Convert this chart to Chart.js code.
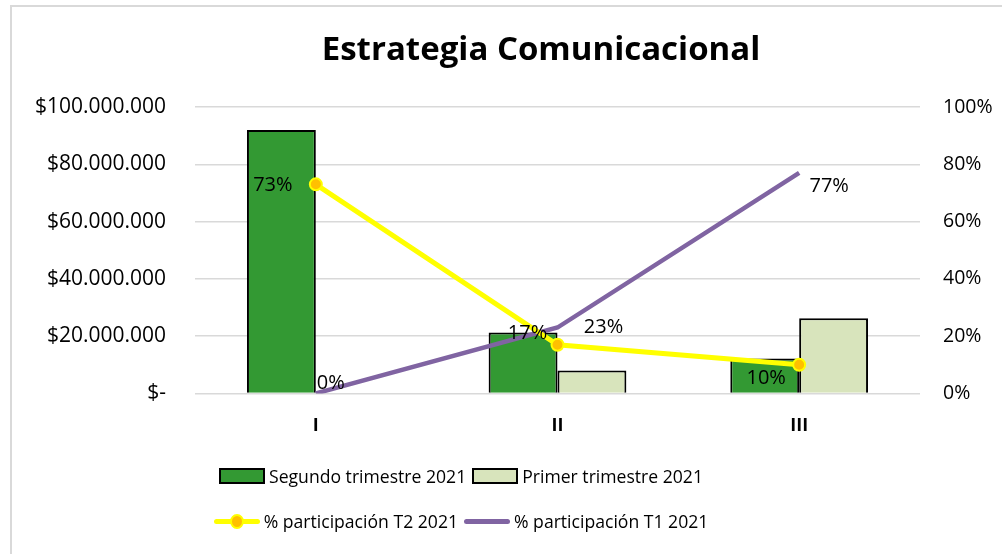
<!DOCTYPE html>
<html>
<head>
<meta charset="utf-8">
<script src="https://cdn.jsdelivr.net/npm/chart.js@4"></script>
<style>
  body { margin: 0; background: #fff; font-family: 'Open Sans', sans-serif; }
  #wrap { position: relative; width: 1002px; height: 554px; overflow: hidden; }
  #frame { position: absolute; left: 10px; top: 5px; width: 1100px; height: 600px; border-top: 2px solid #d9d9d9; border-left: 2px solid #d9d9d9; }
  canvas { position: absolute; left: 0; top: 0; }
  .legend { position: absolute; left: 0; width: 922px; display: flex; justify-content: center; font-size: 17.6px; color: #000; }
  .item { display: flex; align-items: center; margin: 0 3px; }
  .box { width: 42px; height: 12px; border: 2px solid #000; margin-right: 4px; }
  .line { position: relative; width: 46px; height: 5px; margin-right: 4px; border-radius: 3px; }
  .dot { position: absolute; left: 16px; top: -5px; width: 10px; height: 11px; border-radius: 50%; background: #FFC000; border: 2px solid #FFFF00; }
</style>
</head>
<body>
<div id="wrap">
  <div id="frame"></div>
  <canvas id="chart" width="1002" height="554"></canvas>
  <div class="legend" style="top:464px">
    <div class="item"><div class="box" style="background:#339933"></div>Segundo trimestre 2021</div>
    <div class="item"><div class="box" style="background:#D8E4BC"></div>Primer trimestre 2021</div>
  </div>
  <div class="legend" style="top:509px">
    <div class="item"><div class="line" style="background:#FFFF00"><div class="dot"></div></div>% participación T2 2021</div>
    <div class="item"><div class="line" style="background:#8064A2"></div>% participación T1 2021</div>
  </div>
</div>
<script>
// Data
const categories = ['I', 'II', 'III'];
const segundoTrimestre = [92000000, 21300000, 12200000];
const primerTrimestre = [0, 8000000, 26200000];
const participacionT2 = [73, 17, 10];
const participacionT1 = [0, 23, 77];
const moneyTicks = [0, 20000000, 40000000, 60000000, 80000000, 100000000];
const chartTitle = 'Estrategia Comunicacional';

// Draws the percentage labels next to the line points
const pointLabels = {
    id: 'pointLabels',
    afterDatasetsDraw(chart, args, opts) {
        const ctx = chart.ctx;
        ctx.save();
        ctx.font = '20px "Open Sans"';
        ctx.fillStyle = '#000';
        ctx.textAlign = 'center';
        ctx.textBaseline = 'middle';
        chart.data.datasets.forEach((ds, i) => {
            const offs = opts.offsets[ds.label];
            if (!offs) return;
            chart.getDatasetMeta(i).data.forEach((pt, j) => {
                ctx.fillText(ds.data[j] + '%', pt.x + offs[j][0], pt.y + offs[j][1]);
            });
        });
        ctx.restore();
    }
};

// Title sits a bit right of the canvas centre, like in the original
const sideTitle = {
    id: 'sideTitle',
    afterDraw(chart, args, opts) {
        const ctx = chart.ctx;
        ctx.save();
        ctx.font = 'bold 33px "Open Sans"';
        ctx.fillStyle = '#000';
        ctx.textAlign = 'center';
        ctx.textBaseline = 'alphabetic';
        ctx.fillText(opts.text, opts.x, opts.y);
        ctx.restore();
    }
};

function formatMoney(v) {
    if (v === 0) return '$-';
    return '$' + v.toString().replace(/\B(?=(\d{3})+(?!\d))/g, '.');
}

new Chart(document.getElementById('chart'), {
    data: {
        labels: categories,
        datasets: [
            {
                type: 'line',
                label: '% participación T2 2021',
                data: participacionT2,
                yAxisID: 'y1',
                borderColor: '#FFFF00',
                borderWidth: 5,
                pointRadius: 6,
                pointBackgroundColor: '#FFC000',
                pointBorderColor: '#FFFF00',
                pointBorderWidth: 2,
                tension: 0,
                order: 0
            },
            {
                type: 'line',
                label: '% participación T1 2021',
                data: participacionT1,
                yAxisID: 'y1',
                borderColor: '#8064A2',
                borderWidth: 4.5,
                pointRadius: 0,
                tension: 0,
                order: 1
            },
            {
                type: 'bar',
                label: 'Segundo trimestre 2021',
                data: segundoTrimestre,
                yAxisID: 'y',
                backgroundColor: '#339933',
                borderColor: '#000',
                borderWidth: 2,
                categoryPercentage: 0.57,
                barPercentage: 1,
                order: 2
            },
            {
                type: 'bar',
                label: 'Primer trimestre 2021',
                data: primerTrimestre,
                yAxisID: 'y',
                backgroundColor: '#D8E4BC',
                borderColor: '#000',
                borderWidth: 2,
                categoryPercentage: 0.57,
                barPercentage: 1,
                order: 2
            }
        ]
    },
    options: {
        responsive: false,
        animation: false,
        layout: { padding: { left: 0, right: 0, top: 107, bottom: 103 } },
        scales: {
            x: {
                grid: { display: false },
                border: { display: false },
                ticks: {
                    color: '#000',
                    padding: 14,
                    font: { family: 'Open Sans', size: 18, weight: 'bold' }
                }
            },
            y: {
                position: 'left',
                min: 0,
                max: 100000000,
                afterBuildTicks: axis => { axis.ticks = moneyTicks.map(v => ({ value: v })); },
                afterFit: axis => { axis.width = 195; },
                grid: { color: '#d9d9d9', lineWidth: 1.5, drawTicks: false },
                border: { display: false },
                ticks: {
                    color: '#000',
                    padding: 29,
                    callback: v => formatMoney(v),
                    font: { family: 'Open Sans', size: 21 }
                }
            },
            y1: {
                position: 'right',
                min: 0,
                max: 100,
                afterFit: axis => { axis.width = 82; },
                grid: { display: false, drawTicks: false },
                border: { display: false },
                ticks: {
                    stepSize: 20,
                    color: '#000',
                    padding: 23,
                    callback: v => v + '%',
                    font: { family: 'Open Sans', size: 19.5 }
                }
            }
        },
        plugins: {
            legend: { display: false },
            tooltip: { enabled: false },
            title: { display: false },
            sideTitle: { text: chartTitle, x: 541, y: 60 },
            pointLabels: {
                offsets: {
                    '% participación T2 2021': [[-43, 1], [-30, -11], [-33, 14]],
                    '% participación T1 2021': [[15, -10], [46, 0], [30, 13]]
                }
            }
        }
    },
    plugins: [pointLabels, sideTitle]
});
</script>
</body>
</html>
